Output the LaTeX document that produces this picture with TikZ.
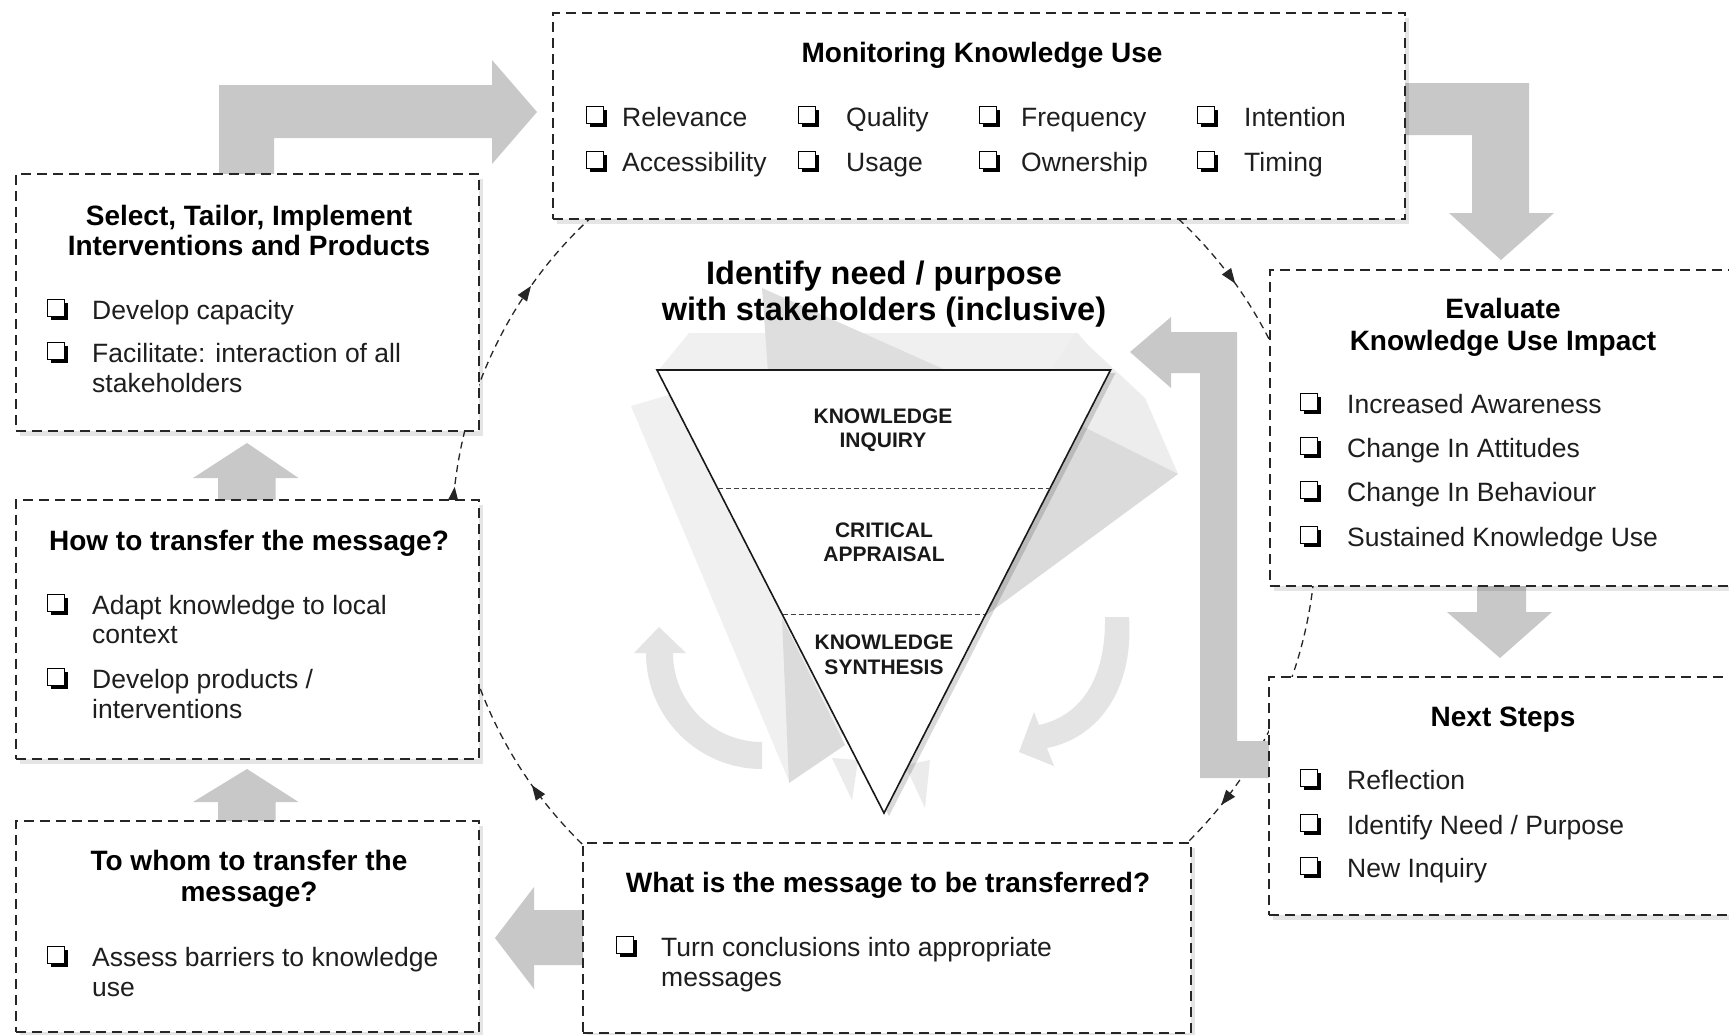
\documentclass[tikz,border=0pt]{standalone}
\usepackage{fontspec}
\setmainfont{Liberation Sans}
\usetikzlibrary{calc,arrows.meta,decorations.markings,shadows}
\definecolor{garrow}{HTML}{C8C8C8}
\definecolor{fgray}{HTML}{E4E4E4}
\definecolor{itmcol}{HTML}{1E1E1E}
\begin{document}
\begin{tikzpicture}[x=1pt,y=-1pt,
  box/.style={draw=black!85, line width=2pt, dash pattern=on 10pt off 6pt, fill=white, inner sep=0, anchor=north west, drop shadow={shadow xshift=4pt, shadow yshift=-5pt, opacity=0.10, fill=black}},
  ttl/.style={font=\bfseries\fontsize{28}{32}\selectfont, inner sep=0, text height=20pt, text depth=0pt},
  bigttl/.style={font=\bfseries\fontsize{32.5}{36}\selectfont, inner sep=0, text height=23.5pt, text depth=0pt},
  tril/.style={font=\bfseries\fontsize{21}{24}\selectfont, inner sep=0, text height=15pt, text depth=0pt, text=black!90},
  itm/.style={font=\fontsize{26.5}{30}\selectfont, text=itmcol, inner sep=0, text height=19pt, text depth=0pt, anchor=west},
  cbx/.style={draw=black, line width=1.2pt, fill=white, minimum size=17pt, inner sep=0, general shadow={fill=black, shadow xshift=3.2pt, shadow yshift=-3.2pt}},
  garr/.style={fill=garrow},
  circ/.style={draw=black!85, line width=1.3pt, dash pattern=on 7pt off 5pt},
  mk/.style={postaction={decorate}, decoration={markings, mark=at position #1 with {\arrow{Triangle[length=15pt,width=11pt]}}}},
  mktwo/.style 2 args={postaction={decorate}, decoration={markings, mark=at position #1 with {\arrow{Triangle[length=15pt,width=11pt]}}, mark=at position #2 with {\arrow{Triangle[length=15pt,width=11pt]}}}},
]
\useasboundingbox (0,0) rectangle (1729,1034);
\fill[white] (0,0) rectangle (1729,1034);

% ---------- dashed cycle circle (behind boxes) ----------
\coordinate (ctr) at (884,535);
\draw[circ, mktwo={0.088}{0.664}] ($(ctr)+(182:432)$) arc[start angle=182, end angle=232, radius=432];
\draw[circ, mk=0.554] ($(ctr)+(305:432)$) arc[start angle=305, end angle=340, radius=432];
\draw[circ, mk=0.4] ($(ctr)+(-5:432)$) arc[start angle=-5, end angle=25, radius=432];
\draw[circ, mk=0.391] ($(ctr)+(25:432)$) arc[start angle=25, end angle=60, radius=432];
\draw[circ, mk=0.547] ($(ctr)+(120:432)$) arc[start angle=120, end angle=165, radius=432];

% ---------- faint background shapes ----------
\fill[black!6] (631,406) -- (720,380) -- (884,700) -- (789,781) -- cycle;
\fill[black!6] (689,333) -- (1078,333) -- (1110,372) -- (657,372) -- cycle;
\fill[black!13] (762,288) -- (768,372) -- (950,372) -- cycle;
\fill[black!7] (1075,333) -- (1145,398) -- (1178,474) -- (1000,450) -- cycle;
\fill[black!14] (1040,405) -- (1178,474) -- (985,616) -- cycle;
\fill[black!14] (782,618) -- (789,783) -- (845,745) -- cycle;
\fill[black!8] (832,758) -- (852,800) -- (858,760) -- cycle;
\fill[black!8] (905,765) -- (925,808) -- (930,760) -- cycle;

% faint curved arrows
\fill[fgray] (762,769) arc[start angle=90, end angle=180, radius=116] -- (634,653) -- (659,627) -- (686,653) -- (673,653) arc[start angle=180, end angle=90, radius=89] -- cycle;
\fill[fgray] (1105,617) -- (1129,617) .. controls (1134,690) and (1098,738) .. (1047,748) -- (1054,766) -- (1019,752) -- (1034,712) -- (1039,725) .. controls (1080,716) and (1106,680) .. (1105,617) -- cycle;

% ---------- gray block arrows ----------
\fill[garr] (219,175) -- (219,85) -- (492,85) -- (492,60) -- (537,112) -- (492,164) -- (492,138) -- (274,138) -- (274,175) -- cycle;
\fill[garr] (1402,83) -- (1529,83) -- (1529,213) -- (1554,213) -- (1501,260) -- (1449,213) -- (1472,213) -- (1472,135) -- (1402,135) -- cycle;
\fill[garr] (1477,583) -- (1477,612) -- (1447,612) -- (1500,658) -- (1552,612) -- (1526,612) -- (1526,583) -- cycle;
\fill[garr] (1270,741) -- (1237,741) -- (1237,332) -- (1171,332) -- (1171,317) -- (1130,352) -- (1171,388) -- (1171,373) -- (1200,373) -- (1200,778) -- (1270,778) -- cycle;
\fill[garr] (218,501) -- (218,478) -- (193,478) -- (247,443) -- (298.5,478) -- (275.5,478) -- (275.5,501) -- cycle;
\fill[garr] (218,822) -- (218,802) -- (193,802) -- (247,769) -- (298.5,802) -- (275.5,802) -- (275.5,822) -- cycle;
\fill[garr] (584,910) -- (534,910) -- (534,887) -- (495,938) -- (534,989) -- (534,965) -- (584,965) -- cycle;

% ---------- central triangle ----------
\coordinate (tl) at (657,370);
\coordinate (tr) at (1110.5,370);
\coordinate (tb) at (884,813);
\filldraw[fill=white, draw=black!90, line width=1.6pt, drop shadow={shadow xshift=5pt, shadow yshift=-3pt, opacity=0.15, fill=black}] (tl) -- (tr) -- (tb) -- cycle;
\draw[black!75, line width=1pt, dash pattern=on 5pt off 3pt] ($(tl)!0.2686!(tb)$) -- ($(tr)!0.2686!(tb)$);
\draw[black!75, line width=1pt, dash pattern=on 5pt off 3pt] ($(tl)!0.553!(tb)$) -- ($(tr)!0.553!(tb)$);
\node[tril] (ki1) at (883,416) {KNOWLEDGE};
\node[tril] (ki2) at (883,440) {INQUIRY};
\node[tril] (ca1) at (884,529.5) {CRITICAL};
\node[tril] (ca2) at (884,554) {APPRAISAL};
\node[tril] (ks1) at (884,642) {KNOWLEDGE};
\node[tril] (ks2) at (884,666.5) {SYNTHESIS};

\node[bigttl] (id1) at (884,273) {Identify need / purpose};
\node[bigttl] (id2) at (884,309) {with stakeholders (inclusive)};

% ---------- boxes ----------
\node[box, minimum width=852.5pt, minimum height=206pt] (mon) at (551.5,12) {};
\node[box, minimum width=463pt, minimum height=257pt] (sel) at (14.5,173) {};
\node[box, minimum width=463.5pt, minimum height=258.5pt] (how) at (14.5,499) {};
\node[box, minimum width=463.5pt, minimum height=211pt] (whom) at (14.5,820) {};
\node[box, minimum width=608pt, minimum height=189.5pt] (what) at (582,842) {};
\node[box, minimum width=500pt, minimum height=316pt] (eval) at (1268.5,269) {};
\node[box, minimum width=500pt, minimum height=238pt] (next) at (1268,676) {};

% Monitoring
\node[ttl] (monT) at (982,52) {Monitoring Knowledge Use};
\node[cbx] (mc1) at (595,115) {}; \node[itm] (mt1) at (622,116.7) {Relevance};
\node[cbx] (mc2) at (807,115) {}; \node[itm] (mt2) at (846,116.7) {Quality};
\node[cbx] (mc3) at (988,115) {}; \node[itm] (mt3) at (1021,116.7) {Frequency};
\node[cbx] (mc4) at (1206,115) {}; \node[itm] (mt4) at (1244,116.7) {Intention};
\node[cbx] (mc5) at (595,160) {}; \node[itm] (mt5) at (622,161.7) {Accessibility};
\node[cbx] (mc6) at (807,160) {}; \node[itm] (mt6) at (846,161.7) {Usage};
\node[cbx] (mc7) at (988,160) {}; \node[itm] (mt7) at (1021,161.7) {Ownership};
\node[cbx] (mc8) at (1206,160) {}; \node[itm] (mt8) at (1244,161.7) {Timing};

% Select
\node[ttl] (selT1) at (249,215) {Select, Tailor, Implement};
\node[ttl] (selT2) at (249,245) {Interventions and Products};
\node[cbx] (sc1) at (56,308) {}; \node[itm] (st1) at (92,310) {Develop capacity};
\node[cbx] (sc2) at (56,351) {}; \node[itm] (st2) at (92,353) {Facilitate: interaction of all};
\node[itm] (st3) at (92,383) {stakeholders};

% How
\node[ttl] (howT) at (249,540) {How to transfer the message?};
\node[cbx] (hc1) at (56,603) {}; \node[itm] (ht1) at (92,605) {Adapt knowledge to local};
\node[itm] (ht2) at (92,634) {context};
\node[cbx] (hc2) at (56,677) {}; \node[itm] (ht3) at (92,679) {Develop products /};
\node[itm] (ht4) at (92,709) {interventions};

% To whom
\node[ttl] (whT1) at (249,860.5) {To whom to transfer the};
\node[ttl] (whT2) at (249,891) {message?};
\node[cbx] (wc1) at (56,955) {}; \node[itm] (wt1) at (92,957) {Assess barriers to knowledge};
\node[itm] (wt2) at (92,987) {use};

% What
\node[ttl] (whatT) at (888,882) {What is the message to be transferred?};
\node[cbx] (qc1) at (625,945) {}; \node[itm] (qt1) at (661,947) {Turn conclusions into appropriate};
\node[itm] (qt2) at (661,977) {messages};

% Evaluate
\node[ttl] (evT1) at (1503,308.6) {Evaluate};
\node[ttl] (evT2) at (1503,340.6) {Knowledge Use Impact};
\node[cbx] (ec1) at (1309,402) {}; \node[itm] (et1) at (1347,404) {Increased Awareness};
\node[cbx] (ec2) at (1309,446) {}; \node[itm] (et2) at (1347,448) {Change In Attitudes};
\node[cbx] (ec3) at (1309,490) {}; \node[itm] (et3) at (1347,492) {Change In Behaviour};
\node[cbx] (ec4) at (1309,535) {}; \node[itm] (et4) at (1347,537) {Sustained Knowledge Use};

% Next steps
\node[ttl] (nxT) at (1503,716.7) {Next Steps};
\node[cbx] (nc1) at (1309,778) {}; \node[itm] (nt1) at (1347,780) {Reflection};
\node[cbx] (nc2) at (1309,823) {}; \node[itm] (nt2) at (1347,825) {Identify Need / Purpose};
\node[cbx] (nc3) at (1309,866) {}; \node[itm] (nt3) at (1347,868) {New Inquiry};
\end{tikzpicture}
\end{document}
